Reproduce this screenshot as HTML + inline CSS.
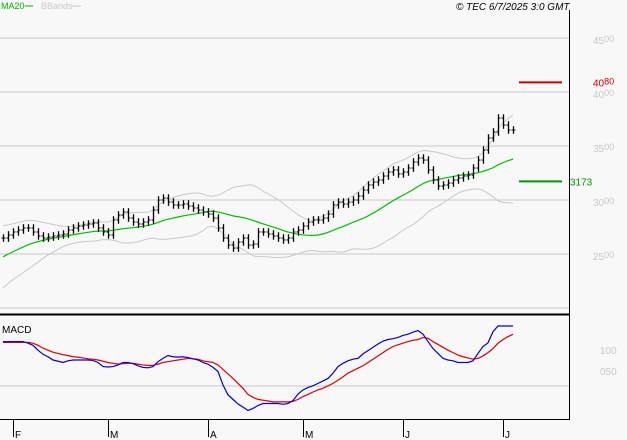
<!DOCTYPE html>
<html><head><meta charset="utf-8"><style>
body{margin:0;background:#f8f8f8;}
svg{display:block;font-family:"Liberation Sans",sans-serif;}
</style></head><body>
<svg id="chart" width="627" height="440" viewBox="0 0 627 440">
<rect x="0" y="0" width="627" height="440" fill="#f8f8f8"/>
<g id="grid"></g>
<g id="bands"></g>
<g id="ma"></g>
<g id="bars"></g>
<g id="macd"></g>
<g id="axes"></g>
<text x="1" y="9" font-size="9" fill="#00b000">MA20</text>
<line x1="25" y1="6" x2="33" y2="6" stroke="#00b000" stroke-width="1"/>
<text x="41" y="9" font-size="9" fill="#c8c8c8">BBands</text>
<line x1="72" y1="6" x2="81" y2="6" stroke="#c8c8c8" stroke-width="1"/>
<text x="456" y="10" font-size="10" font-style="italic" fill="#000">© TEC 6/7/2025 3:0 GMT</text>
<text x="2" y="333" font-size="10" fill="#000">MACD</text>
</svg>
<script>
const preHistory=[2200,2240,2280,2310,2340,2370,2400,2420,2450,2480,2500,2530,2560,2580,2600,2620,2640,2650,2660];
const closes=[2648,2676,2704,2722,2741,2741,2704,2667,2648,2657,2667,2676,2685,2722,2741,2759,2768,2778,2787,2741,2704,2676,2815,2861,2889,2833,2796,2778,2796,2815,2907,3000,3018,2981,2954,2954,2963,2944,2926,2907,2889,2870,2833,2741,2648,2583,2555,2611,2648,2583,2592,2704,2704,2685,2667,2648,2630,2648,2704,2722,2759,2796,2815,2815,2833,2870,2954,2981,2963,2981,3000,3037,3092,3139,3166,3185,3222,3259,3278,3241,3259,3296,3352,3389,3370,3278,3185,3129,3139,3157,3185,3204,3222,3231,3296,3370,3463,3574,3630,3759,3694,3648,3648];
const macdLine=[123,123,123,123,123,119,114,102,92,86,78,75,72,76,78,78,78,78,77,72,62,61,62,66,72,72,69,64,60,59,62,74,82,89,86,85,86,84,81,78,72,68,60,50,17,-7,-18,-29,-37,-45,-40,-33,-28,-28,-28,-28,-30,-28,-21,-5,5,11,15,21,27,33,46,62,70,76,80,82,93,101,109,117,124,128,130,133,138,141,146,150,141,123,106,94,82,78,76,72,72,72,76,94,111,120,147,161,161,161,161];
const signalLine=[121,121,121,121,121,121,119,114,107,102,97,94,91,89,86,85,83,81,80,78,75,72,70,68,69,70,70,68,66,65,65,68,72,74,76,78,80,82,81,80,76,74,72,66,55,44,33,21,9,-6,-13,-18,-20,-22,-24,-24,-24,-24,-23,-18,-11,-6,0,5,9,15,21,29,37,46,52,58,64,72,80,88,96,104,111,115,119,123,126,128,133,131,123,116,109,102,96,90,86,83,80,82,88,96,106,119,128,135,141];
const priceTicks=[4500,4000,3500,3000,2500,2000];
const monthLabels=["F","M","A","M","J","J"];
const monthBarIdx=[2,21,41,60,80,100];
const targetHigh=4080, targetLow=3173;

const NS="http://www.w3.org/2000/svg";
function el(tag,attrs,parent){const e=document.createElementNS(NS,tag);for(const k in attrs)e.setAttribute(k,attrs[k]);parent.appendChild(e);return e;}
const yP=p=>38+(4500-p)*0.108;
const xB=i=>3+i*5;
const yM=m=>392-m*0.41;

const grid=document.getElementById('grid');
priceTicks.forEach(p=>{
  const l=el('line',{x1:0,x2:569,y1:yP(p),y2:yP(p),stroke:'#c8c8c8','stroke-width':1},grid);
  
  
  if(p>=2500){
    const t=el('text',{x:593,y:yP(p)+6,'font-size':10,fill:'#c8c8c8'},grid);
    
    
    t.textContent=String(p).slice(0,2);
    const s=el('tspan',{'font-size':9,dy:-2},t);s.textContent=String(p).slice(2);
  }
});
const all=preHistory.concat(closes);
const maPts=[],upPts=[],loPts=[];
closes.forEach((c,i)=>{
  const w=all.slice(i+preHistory.length-19,i+preHistory.length+1);
  const m=w.reduce((a,b)=>a+b,0)/w.length;
  const sd=Math.sqrt(w.reduce((a,b)=>a+(b-m)*(b-m),0)/w.length);
  maPts.push(xB(i)+','+yP(m));upPts.push(xB(i)+','+yP(m+2*sd));loPts.push(xB(i)+','+yP(m-2*sd));
});
const bands=document.getElementById('bands');
let b1=el('polyline',{points:upPts.join(' '),fill:'none',stroke:'#c8c8c8','stroke-width':1},bands);


let b2=el('polyline',{points:loPts.join(' '),fill:'none',stroke:'#c8c8c8','stroke-width':1},bands);


let ma=el('polyline',{points:maPts.join(' '),fill:'none',stroke:'#00c000','stroke-width':1.2},document.getElementById('ma'));


const bars=document.getElementById('bars');
closes.forEach((c,i)=>{
  const o=i>0?closes[i-1]:c;
  const hi=Math.max(o,c)+35,lo=Math.min(o,c)-35;
  const x=xB(i)+0.5;
  const g=el('g',{stroke:'#000','stroke-width':1.3},bars);
  
  
  el('line',{x1:x,x2:x,y1:yP(hi),y2:yP(lo)},g);
  el('line',{x1:x-2,x2:x,y1:yP(o),y2:yP(o),'stroke-width':1},g);
  el('line',{x1:x,x2:x+2,y1:yP(c),y2:yP(c),'stroke-width':1},g);
});
const ax=document.getElementById('axes');
let th=el('line',{x1:519,x2:562,y1:yP(targetHigh)-1,y2:yP(targetHigh)-1,stroke:'#cc0000','stroke-width':2},ax);


let tht=el('text',{x:593,y:yP(targetHigh)+3,'font-size':10,fill:'#cc0000'},ax);


tht.textContent='40';el('tspan',{'font-size':9,dy:-2},tht).textContent='80';
let tl=el('line',{x1:519,x2:562,y1:yP(targetLow),y2:yP(targetLow),stroke:'#009900','stroke-width':2},ax);


let tlt=el('text',{x:570,y:yP(targetLow)+4,'font-size':10,fill:'#009900'},ax);


tlt.textContent='3173';
const mg=document.getElementById('macd');
let mz=el('line',{x1:0,x2:569,y1:386,y2:386,stroke:'#c8c8c8','stroke-width':1},mg);


[[100,'100',354],[50,'050',375]].forEach(([v,s,y])=>{
  const t=el('text',{x:600,y:y,'font-size':10,fill:'#c8c8c8'},mg);
  
  
  t.textContent=s;
});
let sl=el('polyline',{points:signalLine.map((v,i)=>xB(i)+','+yM(v)).join(' '),fill:'none',stroke:'#e00000','stroke-width':1.2},mg);


let ml=el('polyline',{points:macdLine.map((v,i)=>xB(i)+','+yM(v)).join(' '),fill:'none',stroke:'#0000e0','stroke-width':1.2},mg);


let sep=el('rect',{x:0,y:313.5,width:569,height:2,fill:'#000'},ax);


let vl=el('line',{x1:569.5,x2:569.5,y1:10,y2:419,stroke:'#000','stroke-width':1},ax);


let bl=el('line',{x1:0,x2:570,y1:419.5,y2:419.5,stroke:'#000','stroke-width':1},ax);


monthBarIdx.forEach((bi,k)=>{
  const x=Math.round(xB(bi))+0.5;
  const t=el('line',{x1:x,x2:x,y1:419,y2:437,stroke:'#000','stroke-width':1},ax);
  
  
  const tx=el('text',{x:x+1.5,y:438,'font-size':10,fill:'#000'},ax);
  
  
  tx.textContent=monthLabels[k];
});
</script>
</body></html>
